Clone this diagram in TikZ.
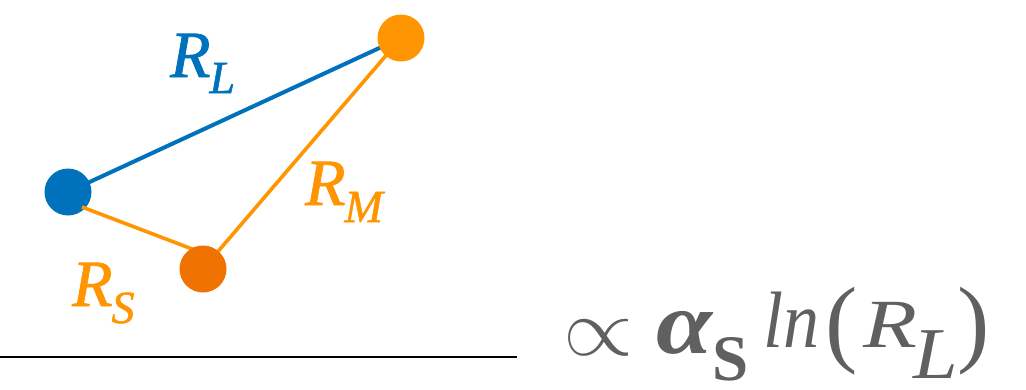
\documentclass[tikz,border=0pt]{standalone}
\usepackage{fontspec}
\setmainfont{Liberation Serif}
\newfontfamily\labfont[FakeBold=1.2]{Liberation Serif Italic}
\newfontfamily\eqit{Liberation Serif Italic}
\definecolor{cblue}{RGB}{0,114,187}
\definecolor{corange}{RGB}{255,149,0}
\definecolor{cdark}{RGB}{240,114,0}
\definecolor{cgray}{RGB}{96,96,96}
\newcommand\mylab[3]{#1\kern-1pt\raisebox{-#3pt}{\fontsize{46}{46}\selectfont #2}}
\newcommand\fitbox[3]{\resizebox*{#1pt}{#2pt}{#3}}
\newcommand\fs[1]{\fontsize{#1}{#1}\selectfont}
\begin{document}
\begin{tikzpicture}[x=1pt,y=-1pt,
  dot/.style={circle,fill,inner sep=0pt,minimum size=47pt},
  lab/.style={font=\labfont\fontsize{66}{66}\selectfont,inner sep=0pt,anchor=base west},
  bond/.style={line width=4pt},
  eqp/.style={inner sep=0pt,anchor=base west,text=cgray}]
\useasboundingbox (0,0) rectangle (1026,389);
\coordinate (b) at (68,192);
\coordinate (o) at (401,38);
\coordinate (d) at (203,269);
\draw[bond,cblue] (b) -- (o);
\draw[bond,corange,line width=3.6pt] (o) -- (d);
\node[dot,cblue] (nb) at (b) {};
\node[dot,corange] (no) at (o) {};
\coordinate (s1) at (82,207);
\coordinate (s2) at (200,252);
\draw[bond,corange,line width=3.6pt] (s1) -- (s2);
\node[dot,cdark] (nd) at (d) {};
\node[lab,cblue] (rl) at (170,77) {\mylab{R}{L}{16}};
\node[lab,corange] (rm) at (305,205) {\mylab{R}{M}{17}};
\node[lab,corange] (rs) at (72,306) {\mylab{R}{S}{17}};
\coordinate (h1) at (0,357);
\coordinate (h2) at (517,357);
\draw[line width=2.5pt] (h1) -- (h2);
% right-hand expression
\node[eqp] (e1) at (563,355) {\scalebox{9}[8.2]{$\propto$}};
\node[eqp,anchor=south west] (e2) at (656,355) {\fitbox{56}{43}{\bfseries\itshape α}};
\node[eqp] (e3) at (712,380) {\fs{65}\bfseries S};
\node[eqp] (e4) at (763,347) {\scalebox{0.9}[1]{\eqit\fs{80}ln}};
\node[eqp] (e5) at (825,354.5) {\fs{97}(};
\node[eqp] (e6) at (863,347) {\scalebox{1.28}[1]{\eqit\fs{69}R}};
\node[eqp] (e7) at (913,378) {\scalebox{1.1}[1]{\eqit\fs{73}L}};
\node[eqp] (e8) at (957,354.5) {\fs{97})};
\end{tikzpicture}
\end{document}
